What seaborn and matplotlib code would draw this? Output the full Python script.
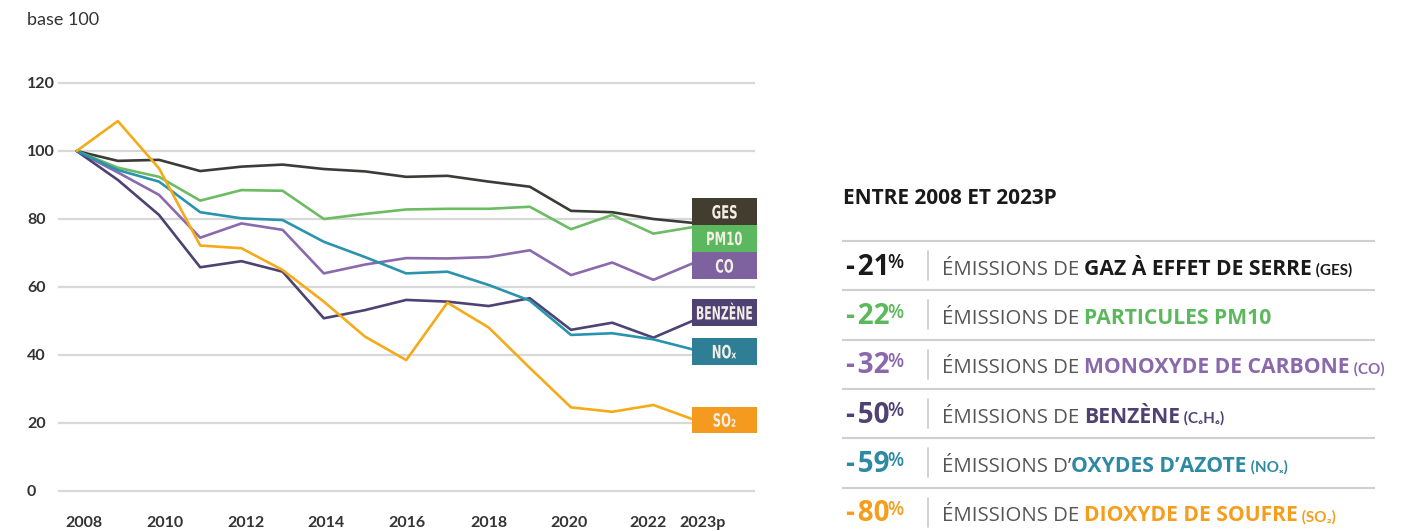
import numpy as np
import pandas as pd
import matplotlib
matplotlib.use("Agg")
import matplotlib.pyplot as plt
import seaborn as sns
from matplotlib.patches import Rectangle, PathPatch
from matplotlib.textpath import TextPath
from matplotlib.font_manager import FontProperties
from matplotlib.transforms import Affine2D, ScaledTranslation

# indices base 100 en 2008
years = list(range(2008, 2024))
ges = [100, 97.1, 97.4, 94.1, 95.4, 96.0, 94.7, 94.0, 92.4, 92.7, 91.0, 89.5, 82.4, 82.0, 80.0, 78.8]
pm10 = [100, 95.1, 92.4, 85.4, 88.5, 88.3, 80.0, 81.5, 82.8, 83.0, 83.0, 83.6, 77.0, 81.2, 75.7, 77.7]
co = [100, 93.7, 87.1, 74.5, 78.7, 76.8, 64.0, 66.6, 68.5, 68.4, 68.8, 70.8, 63.5, 67.2, 62.1, 67.2]
benzene = [100, 91.5, 81.2, 65.8, 67.6, 64.5, 50.8, 53.2, 56.2, 55.7, 54.4, 56.7, 47.4, 49.5, 45.1, 50.3]
nox = [100, 94.4, 91.0, 82.0, 80.2, 79.7, 73.3, 68.8, 64.0, 64.5, 60.6, 56.0, 45.9, 46.4, 44.6, 41.5]
so2 = [100, 108.8, 94.9, 72.2, 71.4, 65.0, 55.7, 45.4, 38.5, 55.4, 48.1, 36.2, 24.6, 23.3, 25.3, 20.9]

series_names = ["GES", "PM10", "CO", "BENZÈNE", "NOₓ", "SO₂"]
line_colors = ["#3b3b38", "#6dbb63", "#8a6aad", "#4d4273", "#2a93ad", "#f5aa1a"]
box_colors = ["#433d30", "#5cb85f", "#7e62a0", "#4f4272", "#2e7f96", "#f39a1f"]
label_levels = [82.1, 74.3, 66.2, 52.4, 41.0, 20.9]

xtick_years = [2008, 2010, 2012, 2014, 2016, 2018, 2020, 2022, 2023]
xtick_labels = ["2008", "2010", "2012", "2014", "2016", "2018", "2020", "2022", "2023p"]
xtick_shift_px = [7, 6, 5, 2.5, 1, 0, -2, -5, 8]
ytick_values = [0, 20, 40, 60, 80, 100, 120]

# tableau de droite
pct_values = [-21, -22, -32, -50, -59, -80]
prefixes = ["ÉMISSIONS DE ", "ÉMISSIONS DE ", "ÉMISSIONS DE ", "ÉMISSIONS DE ", "ÉMISSIONS D’", "ÉMISSIONS DE "]
names = ["GAZ À EFFET DE SERRE", "PARTICULES PM10", "MONOXYDE DE CARBONE", "BENZÈNE", "OXYDES D’AZOTE", "DIOXYDE DE SOUFRE"]
suffixes = [" (GES)", "", " (CO)", " (C₆H₆)", " (NOₓ)", " (SO₂)"]
text_colors = ["#1a1a1a", "#5cb85c", "#8a68ad", "#4f4272", "#2e8aa3", "#f59e1e"]

sns.set_theme(style="white")
plt.rcParams['font.family'] = ['Lato', 'DejaVu Sans']
panel_font = ['Open Sans', 'DejaVu Sans']

df = pd.DataFrame({
    "annee": years * 6,
    "indice": ges + pm10 + co + benzene + nox + so2,
    "polluant": np.repeat(series_names, len(years)),
})

W, H = 1405, 531
fig = plt.figure(figsize=(W / 100, H / 100), dpi=100)
ax = fig.add_axes([58 / W, (H - 497.8) / H, 697 / W, 431.8 / H])

sns.lineplot(data=df, x="annee", y="indice", hue="polluant", hue_order=series_names,
             palette=dict(zip(series_names, line_colors)), linewidth=1.9,
             legend=False, ax=ax, zorder=3)

ax.set_xlim(2007.548, 2024.466)
ax.set_ylim(-2, 125)
ax.set_yticks(ytick_values)
ax.set_xticks(xtick_years)
ax.set_xticklabels(xtick_labels)
ax.grid(axis='y', color='#d8d8d8', linewidth=1.6)
ax.set_axisbelow(True)
for s in ax.spines.values():
    s.set_visible(False)
ax.set_xlabel("")
ax.set_ylabel("")
ax.tick_params(axis='y', length=0, pad=22.3, labelsize=11.5, labelcolor='#333333')
ax.tick_params(axis='x', length=0, pad=13, labelsize=11.5, labelcolor='#333333')
for lab in ax.get_yticklabels():
    lab.set_horizontalalignment('left')
for lab in ax.get_xticklabels() + ax.get_yticklabels():
    lab.set_fontweight('bold')
for lab, dx in zip(ax.get_xticklabels(), xtick_shift_px):
    lab.set_transform(lab.get_transform() + ScaledTranslation(dx / 100, 0, fig.dpi_scale_trans))

fig.text(27 / W, 1 - 20 / H, "base 100", fontsize=13, color='#333333', va='center', ha='left')

# étiquettes en fin de courbe (texte condensé)
box_x0, box_w, box_h = 2022.93, 1.59, 7.9
label_fp = FontProperties(family='DejaVu Sans', weight='bold')
for name, lvl, c in zip(series_names, label_levels, box_colors):
    ax.add_patch(Rectangle((box_x0, lvl - box_h / 2), box_w, box_h, facecolor=c,
                           edgecolor='none', zorder=5, clip_on=False))
    tp = TextPath((0, 0), name, size=18.2, prop=label_fp)
    cap = TextPath((0, 0), "E", size=18.2, prop=label_fp).get_extents()
    ext = tp.get_extents()
    cx = (ext.x0 + ext.x1) / 2
    cy = (cap.y0 + cap.y1) / 2
    sx = 0.6 if len(name) > 4 else 0.64
    tr = Affine2D().translate(-cx, -cy).scale(sx, 1.0) + \
        ScaledTranslation(box_x0 + box_w / 2, lvl, ax.transData)
    ax.add_patch(PathPatch(tp, transform=tr, facecolor='#f4efe6', edgecolor='none',
                           zorder=6, clip_on=False))

# panneau de droite
axr = fig.add_axes([0, 0, 1, 1], zorder=-1)
axr.set_xlim(0, W)
axr.set_ylim(H, 0)
axr.axis('off')

axr.text(843, 198, "ENTRE 2008 ET 2023P", fontsize=15, fontweight='bold',
         color='#1a1a1a', va='center', ha='left', family=panel_font)

row_step = 49.3
for i, (pct, pre, nm, suf, col) in enumerate(zip(pct_values, prefixes, names, suffixes, text_colors)):
    top = 241 + row_step * i
    base = top + 33.7
    axr.plot([842, 1375], [top, top], color='#cfcfcf', lw=1.5, solid_capstyle='butt')
    axr.plot([928, 928], [top + 10, top + 39], color='#cfcfcf', lw=1.3)
    t_num = axr.text(846, base, f"-\u200a{abs(pct)}", fontsize=20, fontweight='bold',
                     color=col, va='baseline', ha='left', family=panel_font)
    axr.annotate("%", xy=(1, base), xycoords=(t_num, 'data'), xytext=(-1.5, 4.5),
                 textcoords='offset points', fontsize=13.5, fontweight='semibold',
                 color=col, va='baseline', ha='left', family=panel_font)
    t_pre = axr.text(942, base, pre, fontsize=14.7, fontweight='normal',
                     color='#555555', va='baseline', ha='left', family=panel_font)
    t_nm = axr.annotate(nm, xy=(1, base), xycoords=(t_pre, 'data'), fontsize=15.2,
                        fontweight='bold', color=col, va='baseline', ha='left',
                        family=panel_font)
    if suf:
        axr.annotate(suf, xy=(1, base), xycoords=(t_nm, 'data'), fontsize=11,
                     fontweight='bold', color=col, va='baseline', ha='left',
                     family=['Lato', 'DejaVu Sans'])

fig.savefig("out.png", dpi=100)
